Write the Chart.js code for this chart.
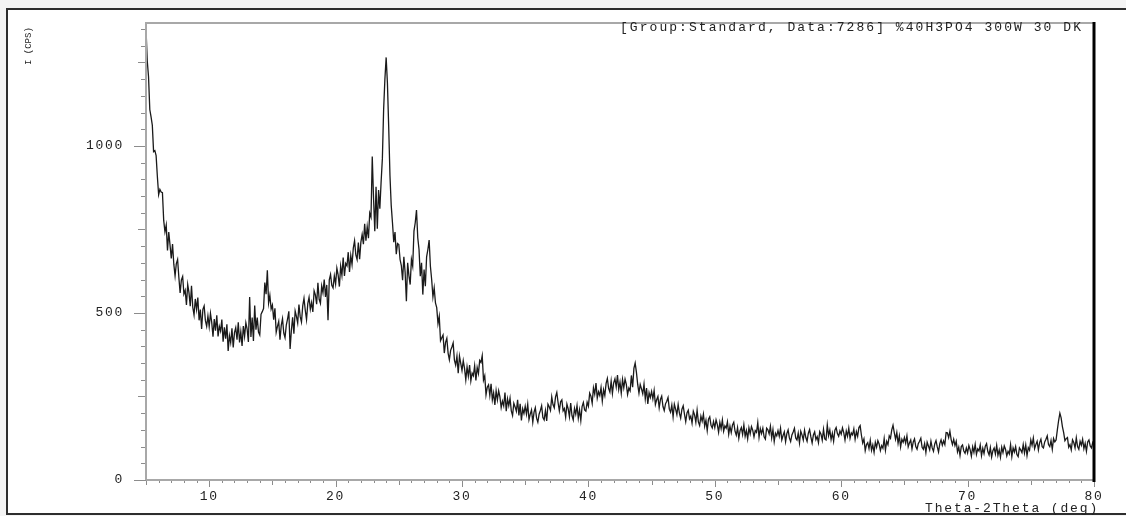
<!DOCTYPE html>
<html>
<head>
<meta charset="utf-8">
<title>XRD %40H3PO4 300W 30 DK</title>
<script src="https://cdn.jsdelivr.net/npm/chart.js@4/dist/chart.umd.min.js"></script>
<style>
  html, body { margin: 0; padding: 0; background: #fff; }
  #wrap { width: 1126px; height: 516px; }
</style>
</head>
<body>
<div id="wrap"><canvas id="xrd" width="1126" height="516"></canvas></div>
<script>
"use strict";

// Scan: 2-theta from 5 to 80 deg, one reading every 0.1 deg.
const scanStart = 5;
const scanStep = 0.1;

// Intensity (CPS), one array per 5 deg slice.
const i05 = [1350, 1254, 1207, 1109, 1087, 1062, 983, 986, 971, 908, 854, 870, 862, 860, 777, 743, 763, 687, 742, 704, 663, 706, 646, 611, 648, 660, 606, 560, 599, 609, 557, 568, 524, 585, 561, 520, 581, 517, 494, 542, 511, 546, 478, 510, 452, 511, 521, 477, 460, 491];
const i10 = [459, 499, 472, 429, 482, 447, 493, 430, 460, 446, 480, 414, 457, 423, 466, 386, 432, 411, 454, 397, 441, 456, 420, 472, 412, 444, 401, 461, 430, 471, 452, 413, 548, 428, 486, 416, 522, 450, 486, 443, 434, 496, 504, 513, 591, 556, 628, 530, 553, 512];
const i15 = [524, 480, 514, 442, 460, 475, 420, 463, 483, 440, 426, 464, 482, 505, 392, 447, 487, 438, 506, 490, 470, 525, 489, 473, 521, 544, 508, 480, 528, 547, 511, 531, 503, 566, 554, 526, 590, 541, 529, 581, 561, 600, 548, 584, 478, 599, 615, 583, 575, 611];
const i20 = [587, 634, 614, 579, 640, 613, 666, 611, 648, 641, 682, 623, 672, 645, 694, 716, 674, 660, 711, 661, 712, 735, 706, 767, 716, 758, 724, 799, 787, 968, 845, 745, 878, 752, 868, 812, 892, 962, 1110, 1200, 1265, 1188, 1058, 912, 822, 770, 712, 742, 676, 708];
const i25 = [705, 660, 642, 598, 668, 622, 535, 650, 612, 585, 660, 640, 745, 770, 808, 725, 690, 610, 650, 555, 630, 580, 668, 690, 718, 640, 600, 548, 575, 530, 516, 468, 490, 417, 426, 434, 380, 412, 424, 380, 360, 388, 398, 410, 359, 344, 371, 320, 371, 349];
const i30 = [328, 357, 334, 300, 338, 311, 344, 297, 320, 312, 342, 298, 337, 319, 358, 352, 372, 299, 312, 255, 278, 285, 253, 288, 240, 261, 225, 267, 240, 267, 249, 217, 236, 222, 262, 206, 243, 223, 245, 207, 193, 230, 219, 206, 240, 193, 228, 178, 213, 199];
const i35 = [221, 197, 227, 181, 197, 210, 173, 203, 216, 185, 173, 197, 208, 222, 187, 180, 208, 177, 227, 219, 208, 249, 226, 216, 249, 262, 232, 207, 234, 240, 207, 214, 188, 227, 213, 189, 230, 193, 180, 214, 197, 223, 185, 210, 178, 220, 232, 210, 206, 233];
const i40 = [221, 260, 251, 230, 276, 257, 290, 245, 264, 253, 277, 236, 270, 253, 289, 304, 274, 263, 296, 259, 291, 303, 279, 314, 271, 293, 260, 301, 276, 302, 286, 256, 275, 267, 313, 278, 334, 350, 322, 286, 260, 286, 273, 258, 287, 243, 275, 228, 261, 247];
const i45 = [265, 243, 268, 226, 240, 250, 216, 241, 251, 220, 208, 228, 236, 247, 212, 203, 224, 189, 227, 212, 196, 226, 200, 185, 212, 222, 197, 175, 201, 209, 183, 191, 170, 206, 195, 173, 209, 174, 163, 191, 176, 197, 161, 179, 148, 182, 189, 164, 156, 175];
const i50 = [157, 180, 166, 143, 173, 154, 180, 146, 162, 155, 174, 137, 161, 142, 165, 173, 146, 134, 157, 125, 148, 157, 136, 165, 131, 148, 123, 156, 138, 160, 149, 129, 148, 143, 172, 128, 154, 139, 155, 129, 122, 155, 150, 138, 161, 126, 151, 115, 140, 132];
const i55 = [148, 131, 155, 120, 133, 144, 115, 139, 150, 126, 115, 135, 144, 155, 126, 120, 140, 111, 146, 135, 120, 149, 127, 116, 140, 151, 129, 111, 135, 144, 121, 130, 112, 145, 137, 119, 152, 123, 120, 165, 133, 150, 121, 140, 116, 149, 157, 139, 131, 147];
const i60 = [137, 156, 142, 120, 147, 131, 155, 125, 141, 135, 153, 122, 145, 131, 157, 163, 134, 111, 123, 88, 106, 112, 94, 119, 89, 105, 83, 113, 98, 118, 108, 88, 103, 95, 124, 89, 116, 106, 132, 125, 150, 164, 142, 122, 142, 110, 132, 99, 122, 113];
const i65 = [127, 110, 132, 99, 111, 120, 93, 114, 123, 100, 92, 109, 116, 125, 98, 92, 109, 82, 113, 102, 90, 116, 96, 86, 108, 118, 99, 84, 109, 120, 104, 117, 106, 142, 141, 127, 146, 121, 106, 122, 103, 116, 84, 98, 73, 100, 105, 87, 80, 96];
const i70 = [81, 103, 91, 71, 99, 83, 107, 77, 93, 87, 105, 73, 95, 79, 101, 109, 85, 75, 97, 69, 88, 96, 78, 104, 74, 90, 68, 98, 82, 102, 92, 72, 86, 78, 106, 70, 96, 84, 100, 76, 70, 96, 90, 82, 106, 81, 105, 73, 97, 89];
const i75 = [120, 104, 126, 94, 106, 116, 90, 112, 122, 100, 96, 114, 122, 132, 106, 100, 118, 92, 124, 114, 120, 150, 178, 200, 186, 160, 142, 118, 124, 127, 98, 106, 90, 120, 112, 96, 126, 100, 92, 116, 104, 122, 94, 110, 86, 114, 120, 102, 96, 112];
const i80 = [104];

const xTickLabels = [10, 20, 30, 40, 50, 60, 70, 80];
const yTickLabels = [0, 500, 1000];

const titleText = "[Group:Standard, Data:7286] %40H3PO4 300W 30 DK";
const xTitle = "Theta-2Theta (deg)";
const yTitle = "I (CPS)";

const intensity = [].concat(i05, i10, i15, i20, i25, i30, i35, i40, i45, i50, i55, i60, i65, i70, i75, i80);
const points = intensity.map((v, i) => ({
  x: Math.round((scanStart + i * scanStep) * 10) / 10,
  y: v,
}));

const MONO = '"Liberation Mono", "DejaVu Sans Mono", monospace';
const textCol = "#222";

// Instrument-style frame: grey axes, black right edge, small tick marks,
// monospaced header text. Tick marks are placed through the chart's scales.
const frame = {
  id: "frame",
  beforeDraw(chart) {
    const { ctx, width, height } = chart;
    ctx.save();
    ctx.fillStyle = "#f4f4f4";
    ctx.fillRect(0, 0, width, height);
    ctx.fillStyle = "#fff";
    ctx.fillRect(7, 9, width, 505);
    ctx.restore();
    ctx.letterSpacing = "1.7px"; // tick labels
  },
  afterDraw(chart) {
    const { ctx, chartArea: a, scales: { x, y } } = chart;
    ctx.save();
    ctx.letterSpacing = "0px";

    ctx.strokeStyle = "#8c8c8c";
    ctx.lineWidth = 1;
    ctx.beginPath();
    for (let v = 0; v <= 1350; v += 50) {
      const py = Math.round(y.getPixelForValue(v)) + 0.5;
      const len = v % 500 === 0 ? 12 : v % 250 === 0 ? 8 : 5;
      ctx.moveTo(a.left - len, py);
      ctx.lineTo(a.left, py);
    }
    for (let d = 5; d <= 80; d++) {
      const px = Math.round(x.getPixelForValue(d)) + 0.5;
      const len = d % 10 === 0 ? 7 : d % 5 === 0 ? 5 : 3;
      ctx.moveTo(px, a.bottom);
      ctx.lineTo(px, a.bottom + len);
    }
    ctx.stroke();

    ctx.strokeStyle = "#a8a8a8";
    ctx.lineWidth = 2;
    ctx.beginPath();
    ctx.moveTo(a.left, a.bottom);
    ctx.lineTo(a.left, a.top);
    ctx.lineTo(a.right, a.top);
    ctx.moveTo(a.left, a.bottom);
    ctx.lineTo(a.right, a.bottom);
    ctx.stroke();

    ctx.strokeStyle = "#000";
    ctx.lineWidth = 3;
    ctx.beginPath();
    ctx.moveTo(a.right, a.top - 1);
    ctx.lineTo(a.right, a.bottom + 2);
    ctx.stroke();

    // outer window frame (right side runs off the picture)
    ctx.strokeStyle = "#2e2e2e";
    ctx.lineWidth = 2;
    ctx.strokeRect(7, 9, 1200, 505);

    ctx.fillStyle = textCol;
    ctx.font = "13px " + MONO;
    ctx.textBaseline = "middle";
    ctx.textAlign = "left";
    ctx.letterSpacing = "2.05px";
    ctx.fillText(titleText, 620, 28);
    ctx.letterSpacing = "1.87px";
    ctx.fillText(xTitle, 925, 509);

    ctx.translate(29, 65);
    ctx.rotate(-Math.PI / 2);
    ctx.font = "9px " + MONO;
    ctx.letterSpacing = "0px";
    ctx.fillText(yTitle, 0, 0);
    ctx.restore();
  },
};

new Chart(document.getElementById("xrd"), {
  type: "line",
  data: {
    datasets: [
      {
        label: "I (CPS)",
        data: points,
        borderColor: "#1a1a1a",
        borderWidth: 1.3,
        pointRadius: 0,
        tension: 0,
        fill: false,
      },
    ],
  },
  options: {
    responsive: false,
    animation: false,
    devicePixelRatio: 1,
    layout: { padding: { top: 23, right: 32, left: 0, bottom: 0 } },
    plugins: { legend: { display: false }, tooltip: { enabled: false } },
    scales: {
      x: {
        type: "linear",
        min: 5,
        max: 80,
        grid: { display: false },
        border: { display: false },
        afterBuildTicks: (s) => { s.ticks = xTickLabels.map((v) => ({ value: v })); },
        afterFit: (s) => { s.height = 36; },
        ticks: {
          color: textCol,
          font: { family: MONO, size: 13 },
          padding: 1,
          maxRotation: 0,
          autoSkip: false,
          callback: (v) => String(v),
        },
      },
      y: {
        min: 0,
        max: 1368,
        grid: { display: false },
        border: { display: false },
        afterBuildTicks: (s) => { s.ticks = yTickLabels.map((v) => ({ value: v })); },
        afterFit: (s) => { s.width = 146; },
        ticks: {
          color: textCol,
          font: { family: MONO, size: 13 },
          padding: 14,
          callback: (v) => String(v),
        },
      },
    },
  },
  plugins: [frame],
});
</script>
</body>
</html>
